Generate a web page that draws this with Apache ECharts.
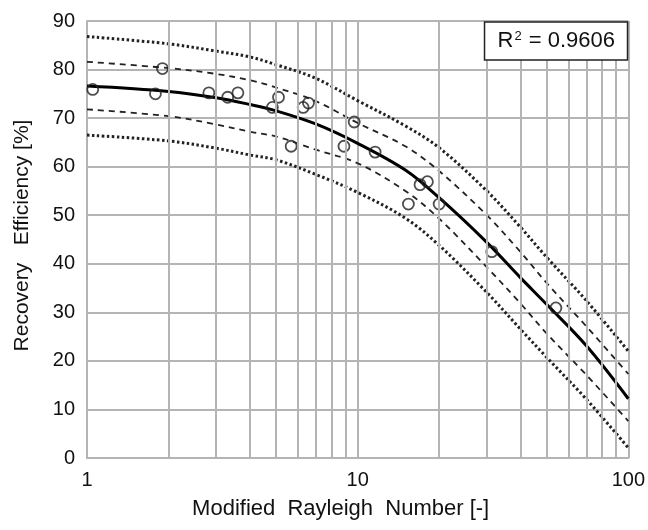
<!DOCTYPE html>
<html>
<head>
<meta charset="utf-8">
<script src="https://cdn.jsdelivr.net/npm/echarts@6/dist/echarts.min.js"></script>
<style>
  html, body { margin: 0; padding: 0; background: #fff; }
  #chart { width: 648px; height: 530px; }
</style>
</head>
<body>
<div id="chart"></div>
<script>
// measured points [Rayleigh number, recovery %]
const observed = [
  [1.05, 75.9], [1.79, 75.0], [1.90, 80.2], [2.82, 75.2], [3.31, 74.3],
  [3.61, 75.2], [4.84, 72.2], [5.10, 74.3], [5.68, 64.2], [6.29, 72.2],
  [6.58, 73.1], [8.90, 64.2], [9.71, 69.2], [11.6, 63.0], [15.4, 52.3],
  [17.0, 56.3], [18.1, 56.9], [20.0, 52.3], [31.3, 42.5], [54.0, 30.9]
];

const curveX = [1, 2, 3, 4, 5, 7, 10, 15, 20, 30, 40, 50, 70, 100];
const fitLine   = [76.6, 75.5, 74.2, 72.8, 71.5, 68.8, 64.8, 59.3, 53.6, 44.4, 37.1, 31.6, 23.1, 12.2];
const confUpper = [81.6, 80.3, 79.1, 77.8, 76.3, 73.5, 69.0, 64.2, 59.1, 50.0, 42.4, 36.0, 27.1, 17.3];
const confLower = [71.8, 70.4, 68.7, 67.2, 66.2, 63.5, 60.7, 55.0, 49.3, 39.3, 31.8, 25.6, 17.1, 7.6];
const predUpper = [86.8, 85.3, 83.8, 82.6, 81.0, 78.2, 73.6, 68.4, 63.9, 55.0, 47.5, 41.3, 32.4, 22.0];
const predLower = [66.5, 65.3, 63.8, 62.4, 61.4, 58.4, 54.7, 49.4, 43.8, 34.1, 26.5, 20.7, 12.1, 2.1];

const minorGridX = [2, 3, 4, 5, 6, 7, 8, 9, 20, 30, 40, 50, 60, 70, 80, 90];
const rSquared = '0.9606';

const font = '"Liberation Sans", Arial, sans-serif';
const gridColor = '#b4b4b4';

const pair = ys => curveX.map((x, i) => [x, ys[i]]);

function curve(name, ys, lineStyle) {
  return {
    name: name,
    type: 'line',
    data: pair(ys),
    smooth: 0.35,
    showSymbol: false,
    silent: true,
    z: 3,
    lineStyle: lineStyle
  };
}

const chart = echarts.init(document.getElementById('chart'));
chart.setOption({
  animation: false,
  title: {
    text: '{a|R}{b|2}{a| = ' + rSquared + '}',
    right: 20,
    top: 22,
    padding: [8, 13, 8, 13],
    borderColor: '#222',
    borderWidth: 1.5,
    backgroundColor: '#fff',
    textStyle: {
      fontWeight: 'normal',
      rich: {
        a: { fontFamily: font, fontSize: 22, fontWeight: 'normal', color: '#111' },
        b: { fontFamily: font, fontSize: 13, fontWeight: 'normal', color: '#111', verticalAlign: 'top', padding: [0, 1, 9, 1] }
      }
    }
  },
  grid: { left: 87, right: 19, top: 21, bottom: 72 },
  xAxis: {
    type: 'log',
    logBase: 10,
    min: 1,
    max: 100,
    name: 'Modified  Rayleigh  Number [-]',
    nameLocation: 'middle',
    nameGap: 40,
    nameTextStyle: { fontFamily: font, fontSize: 22, color: '#111', padding: [0, 34, 0, 0] },
    axisLine: { lineStyle: { color: gridColor, width: 2 } },
    axisTick: { show: false },
    axisLabel: { fontFamily: font, fontSize: 20, color: '#111', margin: 12 },
    splitLine: { show: true, lineStyle: { color: gridColor, width: 2 } }
  },
  yAxis: {
    type: 'value',
    min: 0,
    max: 90,
    interval: 10,
    name: 'Recovery   Efficiency [%]',
    nameLocation: 'middle',
    nameGap: 54,
    nameTextStyle: { fontFamily: font, fontSize: 21, color: '#111', padding: [0, 0, 0, 8] },
    axisLine: { show: true, lineStyle: { color: gridColor, width: 2 } },
    axisTick: { show: false },
    axisLabel: { fontFamily: font, fontSize: 20, color: '#111', margin: 12 },
    splitLine: { show: true, lineStyle: { color: gridColor, width: 2 } }
  },
  series: [
    {
      name: 'minor grid',
      type: 'line',
      data: [],
      silent: true,
      z: 1,
      markLine: {
        silent: true,
        symbol: 'none',
        label: { show: false },
        lineStyle: { color: gridColor, width: 2, type: 'solid' },
        data: minorGridX.map(v => ({ xAxis: v }))
      }
    },
    curve('prediction upper', predUpper, { color: '#222', width: 3, type: [2.5, 2.5] }),
    curve('prediction lower', predLower, { color: '#222', width: 3, type: [2.5, 2.5] }),
    curve('confidence upper', confUpper, { color: '#222', width: 1.8, type: [6, 5] }),
    curve('confidence lower', confLower, { color: '#222', width: 1.8, type: [6, 5] }),
    curve('fit', fitLine, { color: '#000', width: 3 }),
    {
      name: 'observed',
      type: 'scatter',
      data: observed,
      symbol: 'circle',
      symbolSize: 11,
      z: 4,
      itemStyle: { color: 'rgba(255,255,255,0)', borderColor: '#222', borderWidth: 1.8 }
    }
  ]
});
</script>
</body>
</html>
